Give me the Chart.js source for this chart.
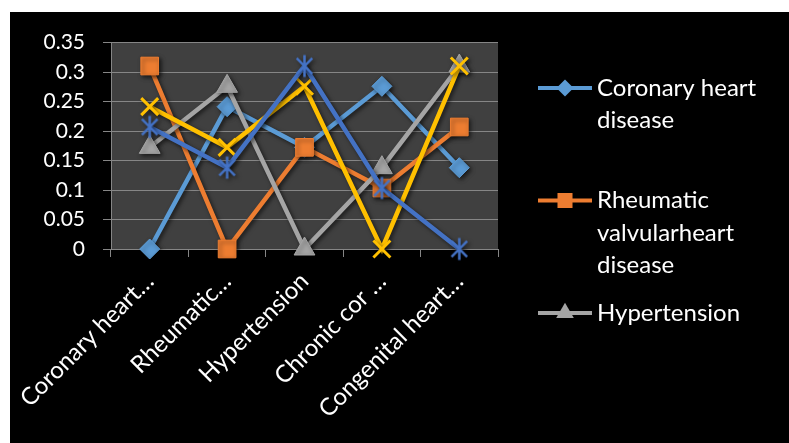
<!DOCTYPE html>
<html>
<head>
<meta charset="utf-8">
<script src="https://cdn.jsdelivr.net/npm/chart.js@4/dist/chart.umd.min.js"></script>
<style>
  html, body { margin: 0; padding: 0; background: #ffffff; }
  #frame { position: absolute; left: 10px; top: 12px; width: 779px; height: 431px; background: #000000; }
  #c { display: block; }
</style>
</head>
<body>
<div id="frame"><canvas id="c" width="779" height="431"></canvas></div>
<script>
// Categories along the x axis (as shown, truncated)
const categories = ['Coronary heart…', 'Rheumatic…', 'Hypertension', 'Chronic cor …', 'Congenital heart…'];

// Series names
const seriesNames = [
  'Coronary heart disease',
  'Rheumatic valvularheart disease',
  'Hypertension',
  'Chronic cor pulmonale',
  'Congenital heart disease'
];

// Series values (share per category)
const coronary     = [0,      0.2414, 0.1724, 0.2759, 0.1379];
const rheumatic    = [0.3103, 0,      0.1724, 0.1034, 0.2069];
const hypertension = [0.1724, 0.2759, 0,      0.1379, 0.3103];
const chronicCor   = [0.2414, 0.1724, 0.2759, 0,      0.3103];
const congenital   = [0.2069, 0.1379, 0.3103, 0.1034, 0];

// Y axis tick labels
const yTickLabels = ['0', '0.05', '0.1', '0.15', '0.2', '0.25', '0.3', '0.35'];

// How many series appear in the legend
const legendCount = 3;

const FONT = 'Lato, "Open Sans", sans-serif';
const colors = ['#5B9BD5', '#ED7D31', '#A5A5A5', '#FFC000', '#4472C4'];

// Asterisk marker (X plus a vertical stroke)
function asteriskMarker(color, r, lw) {
  const s = Math.ceil(2 * r + lw + 2);
  const cv = document.createElement('canvas');
  cv.width = s; cv.height = s;
  const g = cv.getContext('2d');
  const c = s / 2, d = r * Math.SQRT1_2;
  g.strokeStyle = color; g.lineWidth = lw; g.lineCap = 'butt';
  g.beginPath();
  g.moveTo(c, c - r); g.lineTo(c, c + r);
  g.moveTo(c - d, c - d); g.lineTo(c + d, c + d);
  g.moveTo(c - d, c + d); g.lineTo(c + d, c - d);
  g.stroke();
  return cv;
}

const pointStyles = ['rectRot', 'rect', 'triangle', 'crossRot', asteriskMarker(colors[4], 11, 2.5)];
const pointRadii = [10, 12.5, 12, 12, 11];
const seriesData = [coronary, rheumatic, hypertension, chronicCor, congenital];

const datasets = seriesData.map((vals, i) => ({
  label: seriesNames[i],
  data: vals,
  borderColor: colors[i],
  backgroundColor: colors[i],
  borderWidth: 4.5,
  pointStyle: pointStyles[i],
  pointRadius: pointRadii[i],
  pointHoverRadius: pointRadii[i],
  pointBorderWidth: i === 3 ? 3 : (i === 4 ? 2.5 : 1),
  pointBorderColor: colors[i],
  pointBackgroundColor: colors[i],
  tension: 0,
  fill: false,
  clip: false,
  // later series are painted on top
  order: seriesData.length - 1 - i
}));

// Dark grey plot area
const plotBackground = {
  id: 'plotBackground',
  beforeDraw(chart) {
    const { ctx, chartArea: a } = chart;
    ctx.save();
    ctx.fillStyle = '#404040';
    ctx.fillRect(a.left, a.top, a.right - a.left, a.bottom - a.top);
    ctx.restore();
  }
};

// Soft drop shadow under lines and markers
const seriesShadow = {
  id: 'seriesShadow',
  beforeDatasetsDraw(chart) {
    const ctx = chart.ctx;
    ctx.save();
    ctx.shadowColor = 'rgba(0,0,0,0.6)';
    ctx.shadowBlur = 4;
    ctx.shadowOffsetX = 2;
    ctx.shadowOffsetY = 2;
  },
  afterDatasetsDraw(chart) {
    chart.ctx.restore();
  }
};

function drawMarker(ctx, style, x, y, r, color) {
  ctx.fillStyle = color;
  ctx.beginPath();
  if (style === 'rectRot') {
    ctx.moveTo(x, y - r); ctx.lineTo(x + r, y); ctx.lineTo(x, y + r); ctx.lineTo(x - r, y);
  } else if (style === 'rect') {
    const h = r * Math.SQRT1_2;
    ctx.rect(x - h, y - h, 2 * h, 2 * h);
  } else if (style === 'triangle') {
    const w = r * Math.sqrt(3) / 2;
    ctx.moveTo(x, y - r); ctx.lineTo(x + w, y + r / 2); ctx.lineTo(x - w, y + r / 2);
  }
  ctx.closePath();
  ctx.fill();
}

function wrapWords(ctx, text, maxWidth) {
  const words = text.split(' ');
  const lines = [];
  let line = '';
  words.forEach(w => {
    const t = line ? line + ' ' + w : w;
    if (line && ctx.measureText(t).width > maxWidth) { lines.push(line); line = w; }
    else line = t;
  });
  if (line) lines.push(line);
  return lines;
}

// Legend on the right, one entry per fixed slot, names wrapped
const sideLegend = {
  id: 'sideLegend',
  afterDraw(chart) {
    const ctx = chart.ctx;
    const lineX0 = 528, lineX1 = 582, markX = 555, textX = 587;
    const top = 76, slot = 112.5, lineH = 32.5, maxW = 185;
    ctx.save();
    ctx.font = '24px ' + FONT;
    ctx.textBaseline = 'middle';
    ctx.textAlign = 'left';
    for (let i = 0; i < legendCount; i++) {
      const ds = chart.data.datasets[i];
      const y = top + i * slot;
      ctx.strokeStyle = ds.borderColor;
      ctx.lineWidth = 4;
      ctx.beginPath(); ctx.moveTo(lineX0, y); ctx.lineTo(lineX1, y); ctx.stroke();
      drawMarker(ctx, ds.pointStyle, markX, y, ds.pointRadius * 0.85, ds.borderColor);
      ctx.fillStyle = '#ffffff';
      wrapWords(ctx, ds.label, maxW).forEach((ln, k) => ctx.fillText(ln, textX, y + k * lineH));
    }
    ctx.restore();
  }
};

new Chart(document.getElementById('c'), {
  type: 'line',
  data: { labels: categories, datasets },
  plugins: [plotBackground, seriesShadow, sideLegend],
  options: {
    responsive: false,
    animation: false,
    devicePixelRatio: 1,
    layout: { padding: { top: 30, left: 0, right: 291, bottom: 0 } },
    plugins: { legend: { display: false }, tooltip: { enabled: false } },
    scales: {
      x: {
        offset: true,
        afterFit(scale) {
          scale.height = 194;
          // rotated labels may run past the plot edges
          scale.paddingLeft = 0;
          scale.paddingRight = 0;
        },
        grid: { offset: true, drawOnChartArea: false, drawTicks: true, tickLength: 8, color: '#868686', lineWidth: 1 },
        border: { display: true, color: '#868686', width: 1 },
        ticks: {
          autoSkip: false, minRotation: 45, maxRotation: 45, padding: 10,
          color: '#ffffff', font: { family: FONT, size: 24 }
        }
      },
      y: {
        min: 0, max: 0.35,
        afterFit(scale) { scale.width = 101; },
        grid: { color: '#868686', lineWidth: 1, drawTicks: true, tickLength: 8 },
        border: { display: true, color: '#868686', width: 1 },
        ticks: {
          stepSize: 0.05, padding: 18, color: '#ffffff',
          font: { family: FONT, size: 21 },
          callback: (v, idx) => yTickLabels[idx]
        }
      }
    }
  }
});
</script>
</body>
</html>
